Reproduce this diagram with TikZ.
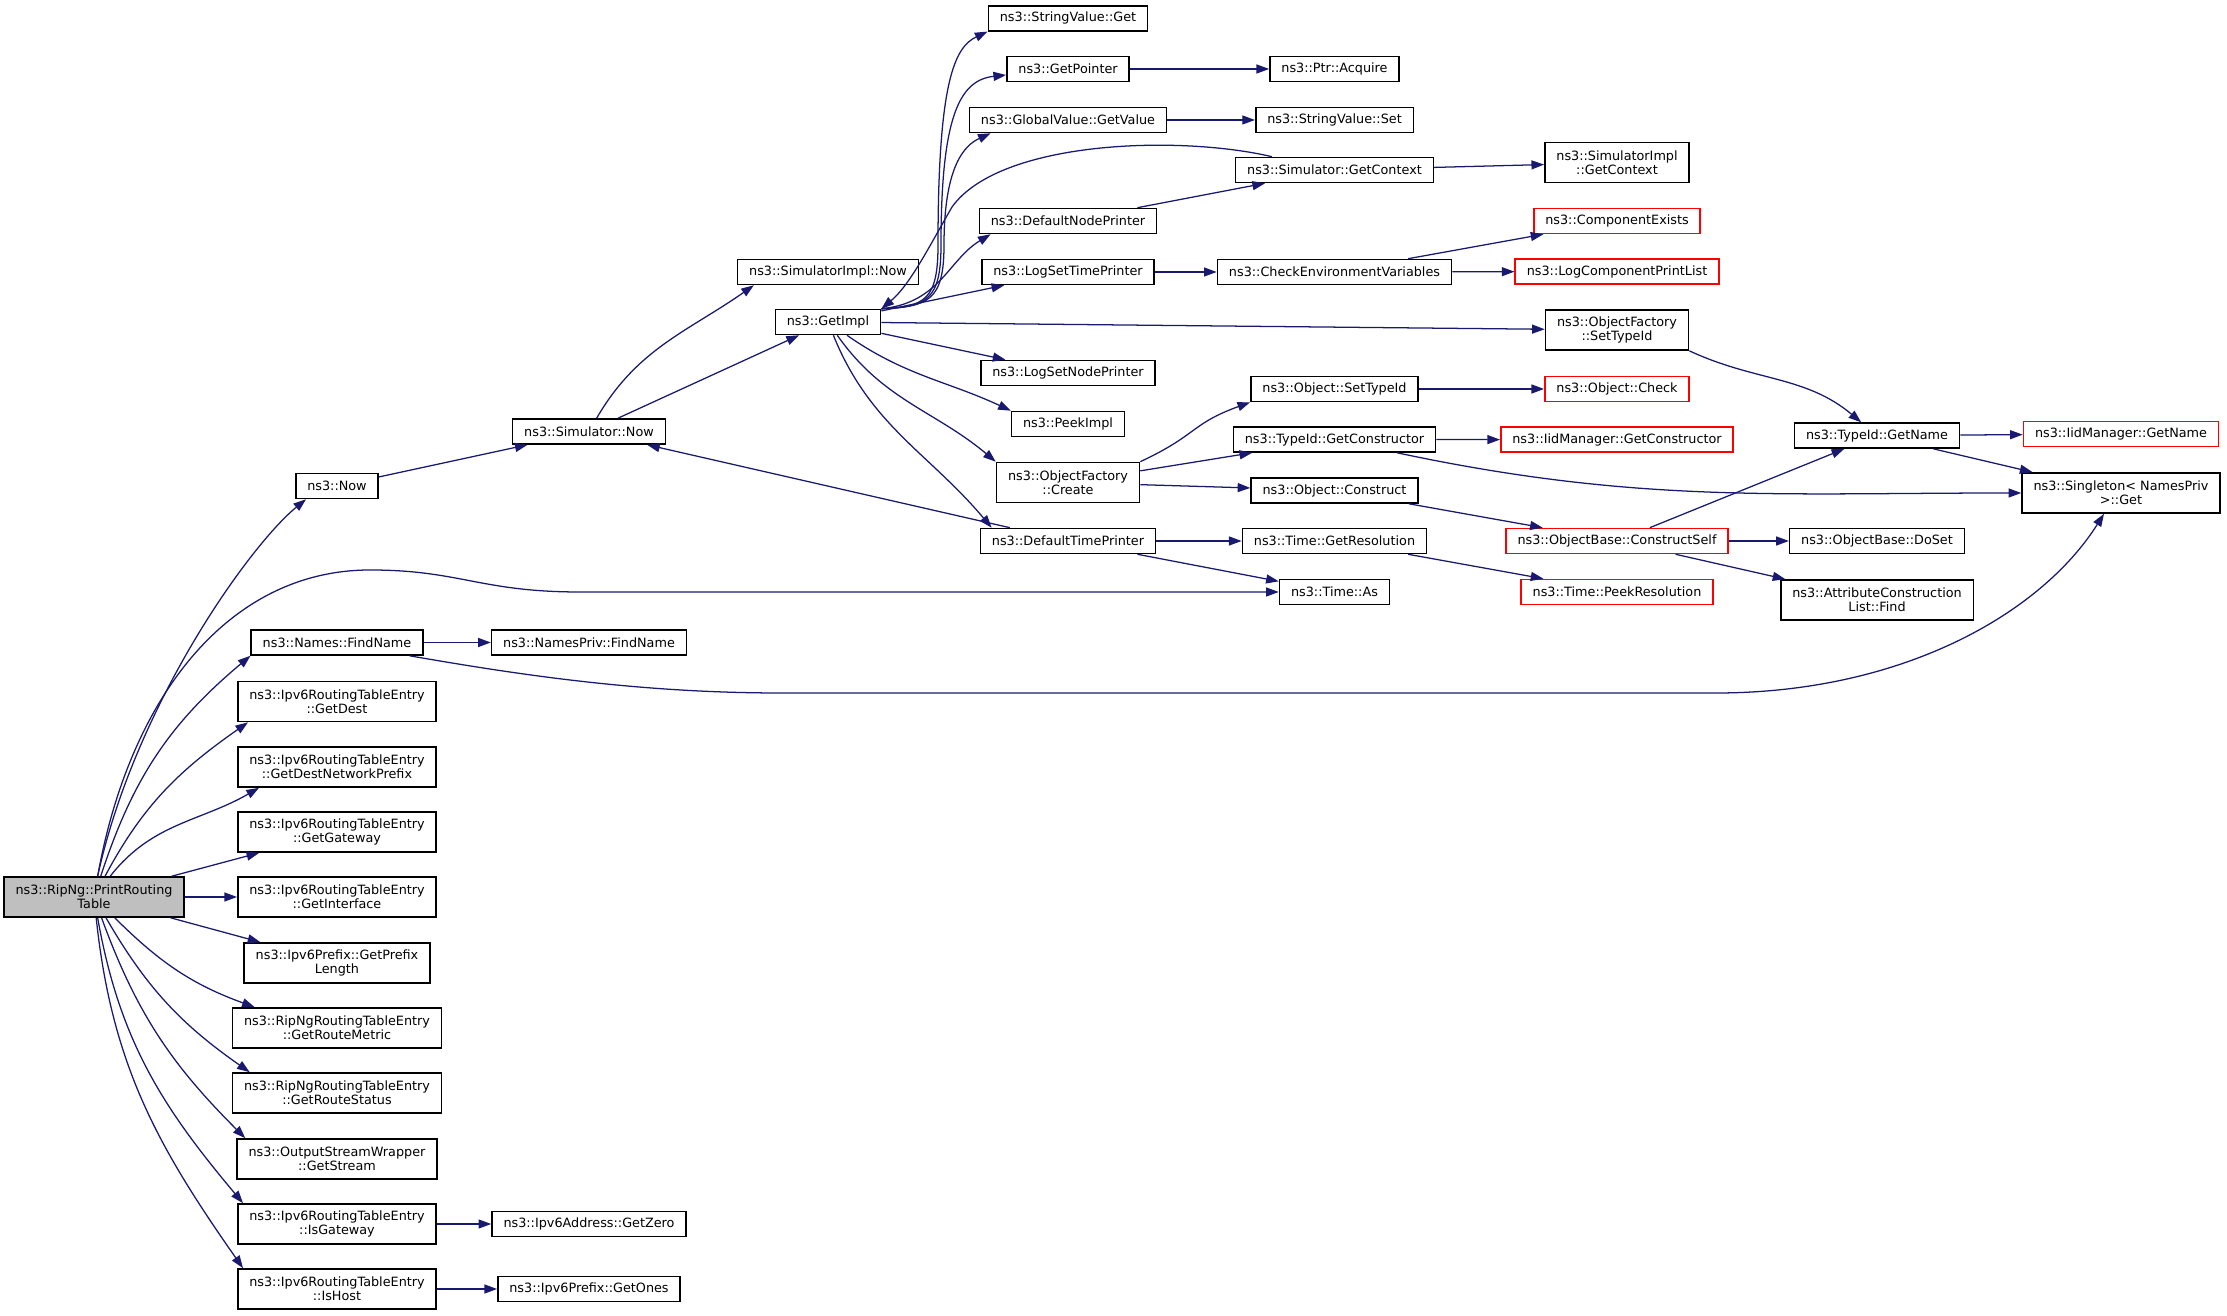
\documentclass[tikz,border=0pt]{standalone}
\usepackage{fontspec}
\setmainfont{DejaVu Sans}
\usetikzlibrary{arrows.meta}
\definecolor{callblue}{HTML}{191970}
\definecolor{callergray}{HTML}{BFBFBF}

\begin{document}
\begin{tikzpicture}[x=0.025cm, y=0.025cm,
	fn/.style={draw, line width=1.1pt, inner xsep=8.2pt, inner ysep=2pt, minimum height=17.8pt, align=center, font=\fontsize{9.1}{10.2}\selectfont},
	fnn/.style={fn, minimum height=28.5pt},
	fnred/.style={fn, draw=red},
	call/.style={draw=callblue, line width=0.9pt, -{Triangle[length=9pt,width=6.4pt]}}]
	\useasboundingbox (0,0) rectangle (2227,1315);
	% appelant et ses appels directs
	\node[fnn, fill=callergray] (prt) at (94,418) {ns3::RipNg::PrintRouting\\Table};
	\node[fn] (now) at (337,829) {ns3::Now};
	\node[fn] (fnm) at (337,672.5) {ns3::Names::FindName};
	\foreach \n/\y/\t in {gd/613.5/{ns3::Ipv6RoutingTableEntry\\::GetDest},
		gdnp/548/{ns3::Ipv6RoutingTableEntry\\::GetDestNetworkPrefix},
		ggw/483/{ns3::Ipv6RoutingTableEntry\\::GetGateway},
		gif/418/{ns3::Ipv6RoutingTableEntry\\::GetInterface},
		gpl/352/{ns3::Ipv6Prefix::GetPrefix\\Length},
		grm/287/{ns3::RipNgRoutingTableEntry\\::GetRouteMetric},
		grs/222/{ns3::RipNgRoutingTableEntry\\::GetRouteStatus},
		gst/156/{ns3::OutputStreamWrapper\\::GetStream},
		igw/91/{ns3::Ipv6RoutingTableEntry\\::IsGateway},
		ih/26/{ns3::Ipv6RoutingTableEntry\\::IsHost}}
		\node[fnn] (\n) at (337,\y) {\t};

	% colonnes suivantes
	\node[fn] (snow) at (589,883.5) {ns3::Simulator::Now};
	\node[fn] (npf) at (589,672.5) {ns3::NamesPriv::FindName};
	\node[fn] (gz) at (589,91) {ns3::Ipv6Address::GetZero};
	\node[fn] (go) at (589,26) {ns3::Ipv6Prefix::GetOnes};
	\node[fn] (sinow) at (828,1043) {ns3::SimulatorImpl::Now};
	\node[fn] (gimpl) at (828,993) {ns3::GetImpl};
	\foreach \n/\y/\s/\t in {svg/1296.7/fn/{ns3::StringValue::Get}, gp/1246/fn/{ns3::GetPointer},
		ggv/1195/fn/{ns3::GlobalValue::GetValue}, dnp/1094/fn/{ns3::DefaultNodePrinter},
		lstp/1043/fn/{ns3::LogSetTimePrinter}, lsnp/942/fn/{ns3::LogSetNodePrinter},
		pi/891/fn/{ns3::PeekImpl}, ofc/832.5/fnn/{ns3::ObjectFactory\\::Create},
		dtp/774/fn/{ns3::DefaultTimePrinter}}
		\node[\s] (\n) at (1068,\y) {\t};
	\foreach \n/\y/\t in {pa/1246/{ns3::Ptr::Acquire}, svs/1195/{ns3::StringValue::Set},
		sgc/1145/{ns3::Simulator::GetContext}, cev/1043/{ns3::CheckEnvironmentVariables},
		ost/926/{ns3::Object::SetTypeId}, tgc/875.5/{ns3::TypeId::GetConstructor},
		oc/824.5/{ns3::Object::Construct}, tgr/774/{ns3::Time::GetResolution},
		tas/723/{ns3::Time::As}}
		\node[fn] (\n) at (1334.5,\y) {\t};
	\foreach \n/\y/\s/\t in {sigc/1152.3/fnn/{ns3::SimulatorImpl\\::GetContext},
		ce/1094/fnred/{ns3::ComponentExists}, lcpl/1043.5/fnred/{ns3::LogComponentPrintList},
		ofst/985/fnn/{ns3::ObjectFactory\\::SetTypeId}, och/926/fnred/{ns3::Object::Check},
		igc/875.3/fnred/{ns3::IidManager::GetConstructor},
		obcs/774/fnred/{ns3::ObjectBase::ConstructSelf}, tpr/723/fnred/{ns3::Time::PeekResolution}}
		\node[\s] (\n) at (1617,\y) {\t};
	\node[fn] (tgn) at (1877,879.4) {ns3::TypeId::GetName};
	\node[fn] (obds) at (1877,774) {ns3::ObjectBase::DoSet};
	\node[fnn] (acl) at (1877,715) {ns3::AttributeConstruction\\List::Find};
	\node[fnred] (ign) at (2121,881) {ns3::IidManager::GetName};
	\node[fnn] (sng) at (2121,822) {ns3::Singleton< NamesPriv\\>::Get};

	% appels
	\draw[call] (prt.80) .. controls (135,610) and (250,770) .. ([xshift=0.275cm]now.south west);
	\draw[call] (prt.80) .. controls (130,620) and (230,745) .. (370,745) .. controls (460,745) and (480,723) .. (580,723) -- (tas);
	\foreach \n/\o/\i/\s in {fnm/72/-140/0cm, gd/62/-145/0.275cm, gdnp/52/-150/0.55cm}
		\draw[call] (prt) to[out=\o,in=\i] ([xshift=\s]\n.south west);
	\foreach \n/\o/\i/\s in {grm/-45/160/0.575cm, grs/-60/145/0.45cm, gst/-70/135/0.225cm, igw/-80/130/0.15cm, ih/-84/125/0.15cm}
		\draw[call] (prt) to[out=\o,in=\i] ([xshift=\s]\n.north west);
	\draw[call] (prt) -- (ggw);
	\draw[call] (prt) -- (gif);
	\draw[call] (prt) -- (gpl);
	\draw[call] (igw) -- (gz);
	\draw[call] (ih) -- (go);
	\draw[call] (fnm) -- (npf);
	\draw[call] ([xshift=-0.35cm]fnm.south east) .. controls (520,640) and (640,622) .. (781,622) -- (1716,622) .. controls (1900,622) and (2040,700) .. ([xshift=-0.425cm]sng.south);
	\draw[call] (now) -- (snow);
	\draw[call] (snow) to[out=60,in=-145] ([xshift=0.425cm]sinow.south west);
	\draw[call] (snow) -- (gimpl);
	\draw[call] (dtp) -- (snow);

	\draw[call] (gimpl.north east) .. controls (925,1008) and (938,1015) .. (938,1070) .. controls (938,1235) and (955,1268) .. (svg.south west);
	\draw[call] (gimpl.north east) .. controls (927,1008) and (941,1015) .. (941,1070) .. controls (941,1200) and (960,1235) .. ([yshift=-0.15cm]gp.west);
	\draw[call] (gimpl.north east) .. controls (929,1008) and (944,1015) .. (944,1070) .. controls (944,1150) and (965,1170) .. ([xshift=0.55cm]ggv.south west);
	\draw[call] (gimpl.north east) .. controls (940,1012) and (948,1055) .. ([xshift=0.3cm]dnp.south west);
	\draw[call] (gimpl) -- (lstp);
	\draw[call] (gimpl) -- (lsnp);
	\draw[call] (gimpl) to[out=-35,in=155] (pi.north west);
	\draw[call] (gimpl) to[out=-55,in=140] (ofc.north west);
	\draw[call] (gimpl) to[out=-68,in=130] ([xshift=0.3cm]dtp.north west);
	\draw[call] (gimpl) -- (ofst);
	\draw[call] ([xshift=0.925cm]sgc.north west) .. controls (1180,1180) and (1000,1175) .. (952,1108) .. controls (930,1070) and (910,1030) .. (gimpl.north east);

	\draw[call] (gp) -- (pa);
	\draw[call] (ggv) -- (svs);
	\draw[call] (dnp) -- (sgc);
	\draw[call] (sgc) -- (sigc);
	\draw[call] (lstp) -- (cev);
	\draw[call] (cev) -- (ce);
	\draw[call] (cev) -- (lcpl);
	\draw[call] (ofc.north east) to[out=25,in=-160,looseness=1.3] (ost.south west);
	\draw[call] (ofc) -- (tgc);
	\draw[call] (ofc) -- (oc);
	\draw[call] (ost) -- (och);
	\draw[call] (tgc) -- (igc);
	\draw[call] (tgc) to[out=-12,in=180] (sng);
	\draw[call] (oc) -- (obcs);
	\draw[call] (obcs) -- (tgn);
	\draw[call] (obcs) -- (obds);
	\draw[call] (obcs) -- (acl);
	\draw[call] (ofst.south east) to[out=-25,in=140] (tgn);
	\draw[call] (tgn) -- (ign);
	\draw[call] (tgn) -- (sng);
	\draw[call] (dtp) -- (tgr);
	\draw[call] (dtp) -- (tas);
	\draw[call] (tgr) -- (tpr);
\end{tikzpicture}
\end{document}
